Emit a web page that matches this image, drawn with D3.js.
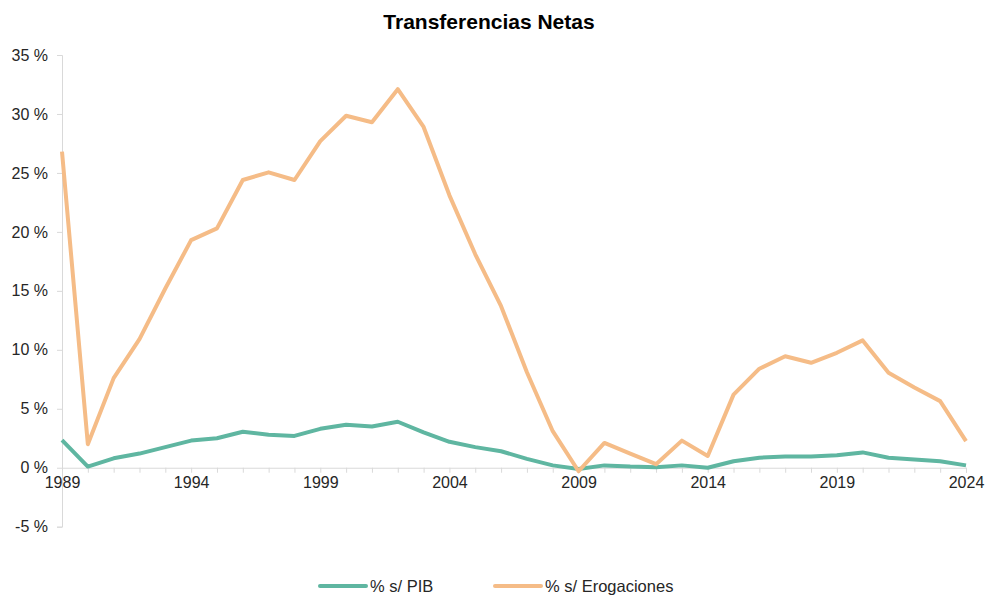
<!DOCTYPE html>
<html>
<head>
<meta charset="utf-8">
<script src="https://cdn.jsdelivr.net/npm/d3@7"></script>
<style>
  body { margin: 0; background: #fff; }
  svg text { font-family: "Liberation Sans", Arial, sans-serif; fill: #262626; }
</style>
</head>
<body>
<div id="chart"></div>
<script>
// ---- data ----
var years = d3.range(1989, 2025);
var pibValues = [2.35, 0.1, 0.8, 1.2, 1.75, 2.3, 2.5, 3.05, 2.8, 2.7,
                 3.3, 3.65, 3.5, 3.9, 3.0, 2.2, 1.75, 1.4, 0.75, 0.2,
                 -0.1, 0.2, 0.1, 0.05, 0.2, 0.0, 0.55, 0.85, 0.95, 0.95,
                 1.05, 1.3, 0.85, 0.7, 0.55, 0.2];
var erogValues = [26.8, 2.0, 7.6, 10.9, 15.2, 19.3, 20.3, 24.4, 25.05, 24.4,
                  27.7, 29.85, 29.3, 32.1, 28.9, 23.1, 18.1, 13.7, 8.1, 3.1,
                  -0.3, 2.1, 1.2, 0.3, 2.3, 1.0, 6.2, 8.4, 9.45, 8.9,
                  9.75, 10.8, 8.05, 6.8, 5.65, 2.25];
var yTicks = [-5, 0, 5, 10, 15, 20, 25, 30, 35];
var xLabelYears = [1989, 1994, 1999, 2004, 2009, 2014, 2019, 2024];
var seriesNames = ["% s/ PIB", "% s/ Erogaciones"];
var seriesColors = ["#5fb6a1", "#f5bc87"];

var width = 986, height = 596;

var svg = d3.select("#chart").append("svg")
  .attr("width", width)
  .attr("height", height);

// title
svg.append("text")
  .attr("x", 489).attr("y", 29)
  .attr("text-anchor", "middle")
  .style("font-size", "21px")
  .style("font-weight", "bold")
  .style("fill", "#000")
  .text("Transferencias Netas");

var x = d3.scaleLinear().domain([1989, 2024]).range([62, 966]);
var y = d3.scaleLinear().domain([-5, 35]).range([526.7, 55]);

var axisColor = "#d9d9d9";

// y axis
var yAxis = svg.append("g")
  .attr("transform", "translate(62,0)")
  .call(d3.axisLeft(y).tickValues(yTicks).tickSize(5).tickPadding(9)
    .tickFormat(function(d) { return d + " %"; }));
yAxis.select(".domain").attr("stroke", axisColor);
yAxis.selectAll(".tick line").attr("stroke", axisColor);
yAxis.selectAll("text").style("font-size", "16px").attr("fill", "#262626");

// x axis at zero
var xAxis = svg.append("g")
  .attr("transform", "translate(0," + y(0) + ")")
  .call(d3.axisBottom(x).tickValues(years).tickSize(5).tickPadding(4)
    .tickFormat(function(d) { return xLabelYears.indexOf(d) >= 0 ? d : ""; }));
xAxis.select(".domain").attr("stroke", axisColor);
xAxis.selectAll(".tick line").attr("stroke", axisColor);
xAxis.selectAll("text").style("font-size", "16px").attr("fill", "#262626");

var line = d3.line()
  .x(function(d, i) { return x(years[i]); })
  .y(function(d) { return y(d); });

[pibValues, erogValues].forEach(function(vals, k) {
  svg.append("path")
    .datum(vals)
    .attr("fill", "none")
    .attr("stroke", seriesColors[k])
    .attr("stroke-width", 4)
    .attr("stroke-linejoin", "round")
    .attr("d", line);
});

// legend (kept just inside the bottom edge)
var legendX = [320, 495];
seriesNames.forEach(function(name, k) {
  var g = svg.append("g").attr("transform", "translate(" + legendX[k] + ",586)");
  g.append("line")
    .attr("x1", 0).attr("x2", 46)
    .attr("stroke", seriesColors[k])
    .attr("stroke-width", 4)
    .attr("stroke-linecap", "round");
  g.append("text")
    .attr("x", 50).attr("y", 6)
    .style("font-size", "16.5px")
    .text(name);
});
</script>
</body>
</html>
